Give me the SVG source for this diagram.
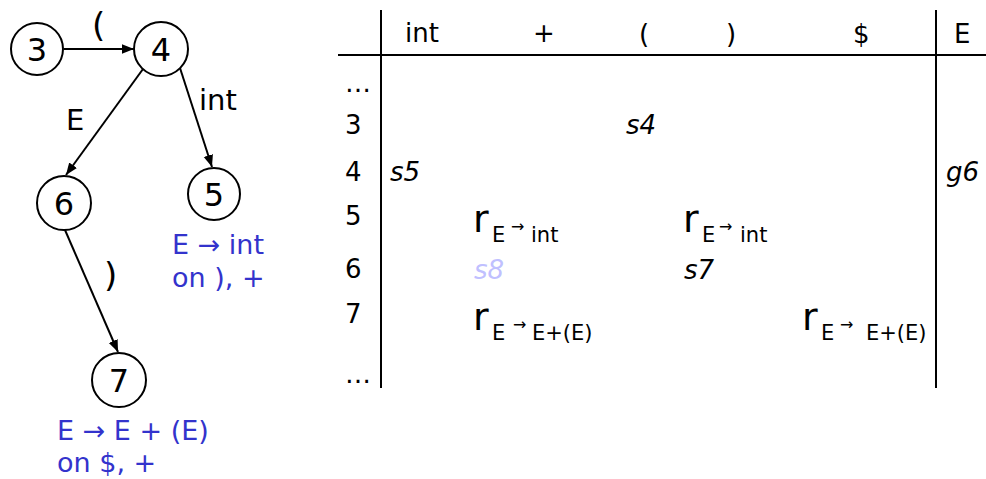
<svg xmlns="http://www.w3.org/2000/svg" width="986" height="479" viewBox="0 0 986 479">
<style>
text{font-family:"DejaVu Sans","Liberation Sans",sans-serif;fill:#000}
.n{font-size:32px;text-anchor:middle}
.lab{font-size:29px}
.par{font-size:34px}
.blue{font-size:27px;fill:#3333cc}
.t{font-size:26px}
.c{font-size:26px;font-style:italic}
.r{font-size:38px}
.sub{font-size:21px}
.arr{font-size:16px}
circle{fill:#fff;stroke:#000;stroke-width:2}
.e{stroke:#000;stroke-width:2;fill:none;marker-end:url(#ah)}
.g{stroke:#000;stroke-width:2}
</style>
<defs>
<marker id="ah" viewBox="0 0 10 10" refX="10" refY="5" markerWidth="6" markerHeight="6" orient="auto" markerUnits="strokeWidth">
<path d="M0,1 L10,5 L0,9 z" fill="#000"/>
</marker>
</defs>
<g id="connectors">
<line class="e" x1="64" y1="49" x2="134" y2="49"/>
<line class="e" x1="143" y1="69" x2="66" y2="175"/>
<line class="e" x1="180" y1="68" x2="212" y2="167"/>
<line class="e" x1="65" y1="230" x2="118" y2="352"/>
<text class="par" x="92" y="37">(</text>
<text class="lab" x="66" y="130">E</text>
<text class="lab" x="199" y="110">int</text>
<text class="par" x="104" y="287">)</text>
</g>
<g id="n3"><circle cx="37" cy="49" r="26"/><text class="n" x="37" y="61">3</text></g>
<g id="n4"><circle cx="161" cy="49" r="27"/><text class="n" x="161" y="61">4</text></g>
<g id="n6"><circle cx="64" cy="203" r="27"/><text class="n" x="64" y="215">6</text></g>
<g id="n5"><circle cx="214" cy="194" r="26"/><text class="n" x="214" y="206">5</text></g>
<g id="n7"><circle cx="119" cy="380" r="27"/><text class="n" x="119" y="392">7</text></g>
<g id="notes">
<text class="blue" x="172" y="254">E → int</text>
<text class="blue" x="172" y="287">on ), +</text>
<text class="blue" x="57" y="440">E → E + (E)</text>
<text class="blue" x="57" y="472">on $, +</text>
</g>
<g id="table">
<line class="g" x1="381" y1="10" x2="381" y2="388"/>
<line class="g" x1="936" y1="10" x2="936" y2="388"/>
<line class="g" x1="338" y1="55" x2="986" y2="55"/>
<text class="t" x="405" y="42">int</text>
<text class="t" x="533" y="42">+</text>
<text class="t" x="639" y="43">(</text>
<text class="t" x="726" y="43">)</text>
<text class="t" x="853" y="43">$</text>
<text class="t" x="954" y="43">E</text>
<text class="t" x="345" y="92">…</text>
<text class="t" x="345" y="134">3</text>
<text class="t" x="345" y="181">4</text>
<text class="t" x="345" y="225">5</text>
<text class="t" x="345" y="278">6</text>
<text class="t" x="345" y="323">7</text>
<text class="t" x="345" y="383">…</text>
<text class="c" x="626" y="134">s4</text>
<text class="c" x="390" y="181">s5</text>
<text class="c" x="946" y="181">g6</text>
<text class="r" x="473" y="232">r<tspan class="sub" x="492" y="242">E</tspan><tspan class="arr" x="511" y="232">→</tspan><tspan class="sub" x="531" y="242">int</tspan></text>
<text class="r" x="683" y="232">r<tspan class="sub" x="702" y="242">E</tspan><tspan class="arr" x="719" y="232">→</tspan><tspan class="sub" x="740" y="242">int</tspan></text>
<text class="c" x="474" y="279" style="fill:#c0c0ff">s8</text>
<text class="c" x="684" y="279">s7</text>
<text class="r" x="473" y="330">r<tspan class="sub" x="492" y="340">E</tspan><tspan class="arr" x="513" y="330">→</tspan><tspan class="sub" x="532" y="340">E+(E)</tspan></text>
<text class="r" x="802" y="330">r<tspan class="sub" x="821" y="340">E</tspan><tspan class="arr" x="840" y="330">→</tspan><tspan class="sub" x="866" y="340">E+(E)</tspan></text>
</g>
</svg>
